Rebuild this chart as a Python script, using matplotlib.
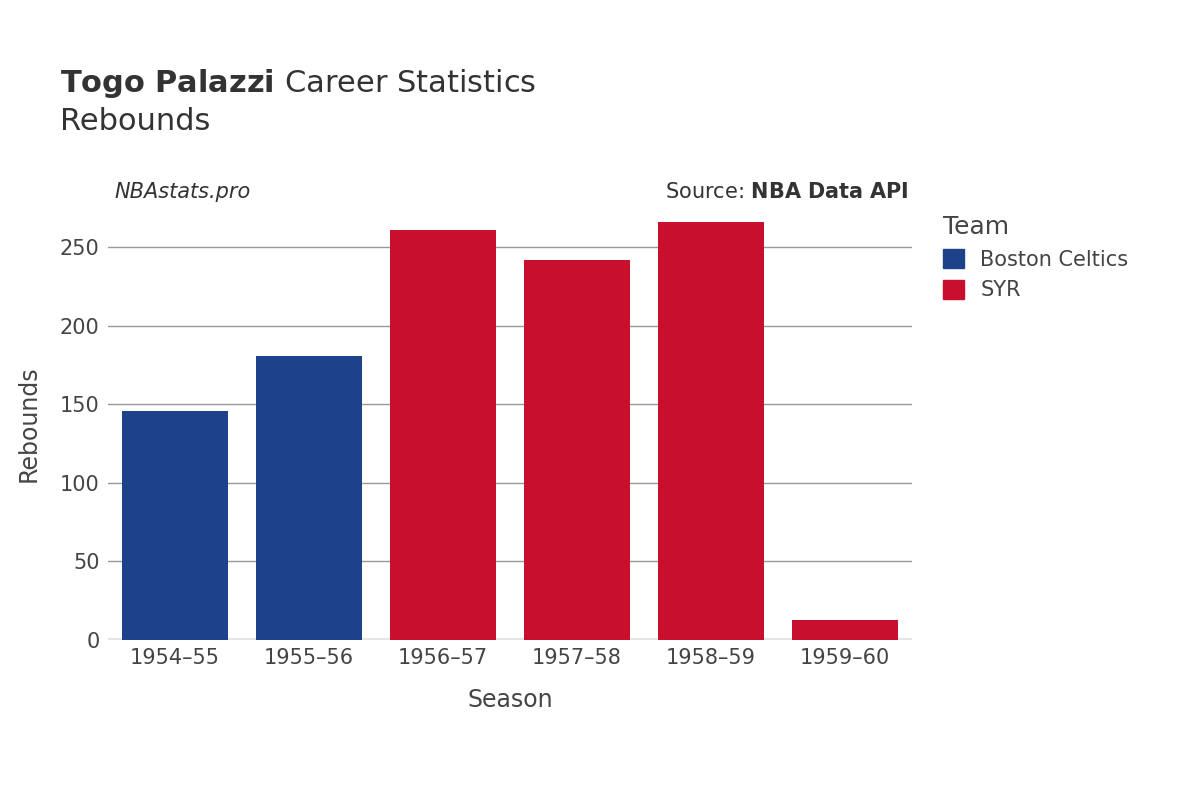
import matplotlib
matplotlib.use("Agg")
import matplotlib.pyplot as plt
from matplotlib.patches import Patch

seasons = ["1954–55", "1955–56", "1956–57", "1957–58", "1958–59", "1959–60"]
rebounds = [146, 181, 261, 242, 266, 13]
teams = ["Boston Celtics", "Boston Celtics", "SYR", "SYR", "SYR", "SYR"]
team_colors = {"Boston Celtics": "#1d4289", "SYR": "#c8102e"}
yticks = [0, 50, 100, 150, 200, 250]

fig = plt.figure(figsize=(12, 8), dpi=100)
ax = fig.add_axes([0.09, 0.2, 0.67, 0.54])
x = range(len(seasons))
ax.bar(x, rebounds, width=0.79, color=[team_colors[t] for t in teams], zorder=3)
ax.set_xlim(-0.5, len(seasons) - 0.5)
ax.set_ylim(0, 275)
ax.set_yticks(yticks)
ax.set_xticks(list(x))
ax.set_xticklabels(seasons)
ax.grid(axis="y", color="#999999", linewidth=1, zorder=0)
for s in ax.spines.values():
    s.set_visible(False)
ax.axhline(0, color="#e5e5e5", linewidth=3, zorder=2)
ax.tick_params(length=0, labelsize=15, colors="#444444", pad=6)
ax.set_xlabel("Season", fontsize=17, color="#444444", labelpad=14)
ax.set_ylabel("Rebounds", fontsize=17, color="#444444", labelpad=14)

fig.text(0.05, 0.875, r"$\bf{Togo\ Palazzi}$ Career Statistics", fontsize=22, color="#333333", va="bottom")
fig.text(0.05, 0.83, "Rebounds", fontsize=22, color="#333333", va="bottom")
fig.text(0.095, 0.76, "NBAstats.pro", fontsize=15, style="italic", color="#333333", va="center")
fig.text(0.757, 0.76, r"Source: $\bf{NBA\ Data\ API}$", fontsize=15, color="#333333", va="center", ha="right")

handles = [Patch(color=c, label=t) for t, c in team_colors.items()]
leg = fig.legend(handles=handles, loc="upper left", bbox_to_anchor=(0.77, 0.755), frameon=False,
                 fontsize=15, title="Team", title_fontsize=18, alignment="left",
                 handlelength=1.0, handleheight=1.0, labelcolor="#444444")
leg.get_title().set_color("#444444")
fig.savefig("out.png")
